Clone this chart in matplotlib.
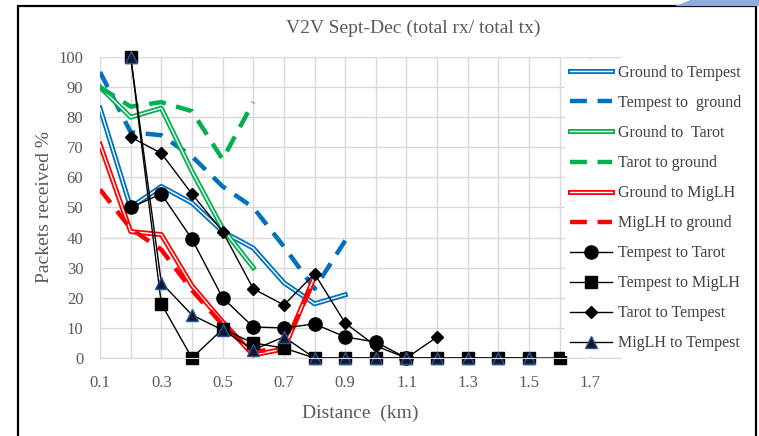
import numpy as np
import matplotlib.pyplot as plt
import matplotlib.patheffects as pe
from matplotlib.patches import Rectangle, Polygon

plt.rcParams['font.family'] = ['Liberation Serif', 'DejaVu Serif']

# data
x_gt_tempest = [0.1, 0.2, 0.3, 0.4, 0.5, 0.6, 0.7, 0.8, 0.9]
gt_tempest = [83, 50, 57, 51.5, 42, 36.5, 25, 18, 21]
tempest_gt = [95, 75, 74, 67, 57, 50, 37, 23, 39]

x_gt_tarot = [0.1, 0.2, 0.3, 0.4, 0.5, 0.6]
gt_tarot = [90, 80, 83, 62, 43, 30]
tarot_gt = [90, 83.5, 85, 82, 66, 85]

x_gt_miglh = [0.1, 0.2, 0.3, 0.4, 0.5, 0.6, 0.7, 0.8]
gt_miglh = [71, 42, 41, 24, 12, 1, 3, 27]
miglh_gt = [56, 43, 36, 22.5, 11, 2, 3.5, 26]

x_tempest_tarot = [0.2, 0.3, 0.4, 0.5, 0.6, 0.7, 0.8, 0.9, 1.0, 1.1]
tempest_tarot = [50, 54.5, 39.5, 20, 10.3, 10, 11.3, 7, 5.3, 0]

x_tempest_miglh = [0.2, 0.3, 0.4, 0.5, 0.6, 0.7, 0.8, 0.9, 1.0, 1.1, 1.2, 1.3, 1.4, 1.5, 1.6]
tempest_miglh = [100, 18, 0, 9.6, 5, 3.3, 0, 0, 0, 0, 0, 0, 0, 0, 0]

x_tarot_tempest = [0.2, 0.3, 0.4, 0.5, 0.6, 0.7, 0.8, 0.9, 1.0, 1.1, 1.2]
tarot_tempest = [73.4, 68, 54.5, 42, 23, 17.6, 28, 11.6, 4, 0, 7]

x_miglh_tempest = [0.2, 0.3, 0.4, 0.5, 0.6, 0.7, 0.8, 0.9, 1.0, 1.1, 1.2, 1.3, 1.4, 1.5]
miglh_tempest = [100, 25, 14.3, 9.3, 2.7, 7, 0, 0, 0, 0, 0, 0, 0, 0]

x_grid = np.round(np.arange(0.1, 1.81, 0.1), 1)
y_ticks = np.arange(0, 101, 10)

blue = '#0070C0'
green = '#00B050'
red = '#FF0000'
grey_txt = '#595959'


def double_line(ax, x, y, color, label):
    # excel style double line: thick colour with white centre
    ax.plot(x, y, color='white', lw=1.0, label=label,
            path_effects=[pe.Stroke(linewidth=3.6, foreground=color), pe.Normal()])


def dashed_line(ax, x, y, color, label):
    ax.plot(x, y, color=color, lw=3.2, dashes=(3.8, 2.4), label=label)


fig = plt.figure(figsize=(7.59, 4.36), dpi=100)
ax = fig.add_axes([0.1318, 0.1789, 0.6864, 0.6904])

double_line(ax, x_gt_tempest, gt_tempest, blue, 'Ground to Tempest')
dashed_line(ax, x_gt_tempest, tempest_gt, blue, 'Tempest to  ground')
double_line(ax, x_gt_tarot, gt_tarot, green, 'Ground to  Tarot')
dashed_line(ax, x_gt_tarot, tarot_gt, green, 'Tarot to ground')
double_line(ax, x_gt_miglh, gt_miglh, red, 'Ground to MigLH')
dashed_line(ax, x_gt_miglh, miglh_gt, red, 'MigLH to ground')

ax.plot(x_tempest_tarot, tempest_tarot, color='black', lw=1.0, marker='o',
        markersize=9.5, label='Tempest to Tarot', clip_on=False)
ax.plot(x_tempest_miglh, tempest_miglh, color='black', lw=1.0, marker='s',
        markersize=8.5, label='Tempest to MigLH', clip_on=False)
ax.plot(x_tarot_tempest, tarot_tempest, color='black', lw=1.0, marker='D',
        markersize=6.5, label='Tarot to Tempest', clip_on=False)
ax.plot(x_miglh_tempest, miglh_tempest, color='black', lw=1.0, marker='^',
        markersize=8, markerfacecolor='#0E1A33', markeredgecolor='#2F5597',
        markeredgewidth=1.0, label='MigLH to Tempest', clip_on=False)

ax.set_xlim(0.1, 1.8)
ax.set_ylim(0, 100)
ax.set_xticks(x_grid)
ax.set_xticklabels([f'{v:.1f}' if i % 2 == 0 else '' for i, v in enumerate(x_grid)])
ax.set_yticks(y_ticks)
ax.grid(True, color='#D9D9D9', lw=1.0)
ax.set_axisbelow(True)
for s in ['top', 'right', 'left']:
    ax.spines[s].set_visible(False)
ax.spines['bottom'].set_color('#D9D9D9')
ax.tick_params(axis='both', length=0, labelsize=12, colors=grey_txt)
ax.tick_params(axis='x', pad=12)
ax.tick_params(axis='y', pad=12)

ax.set_xlabel('Distance  (km)', fontsize=14, color=grey_txt, labelpad=10)
ax.set_ylabel('Packets received %', fontsize=14, color=grey_txt, labelpad=4)
fig.text(0.545, 0.935, 'V2V Sept-Dec (total rx/ total tx)', ha='center', va='center',
         fontsize=14, color=grey_txt)

leg = fig.legend(loc='upper left', bbox_to_anchor=(0.745, 0.862), fontsize=11.5,
                 frameon=True, facecolor='white', edgecolor='none', framealpha=1.0,
                 fancybox=False, handlelength=2.6, handletextpad=0.4,
                 labelspacing=0.88, borderpad=0.3, borderaxespad=0)
for t in leg.get_texts():
    t.set_color('#404040')

# chart frame and slide decoration
fig.patches.append(Rectangle((0.0237, -0.05), 0.972, 1.036, transform=fig.transFigure,
                             fill=False, edgecolor='black', lw=1.6))
fig.patches.append(Polygon([(0.889, 0.986), (0.91, 1.0), (1.0, 1.0), (1.0, 0.986)],
                           closed=True, transform=fig.transFigure,
                           facecolor='#8FAADC', edgecolor='none'))

fig.savefig('out.png', dpi=100)
